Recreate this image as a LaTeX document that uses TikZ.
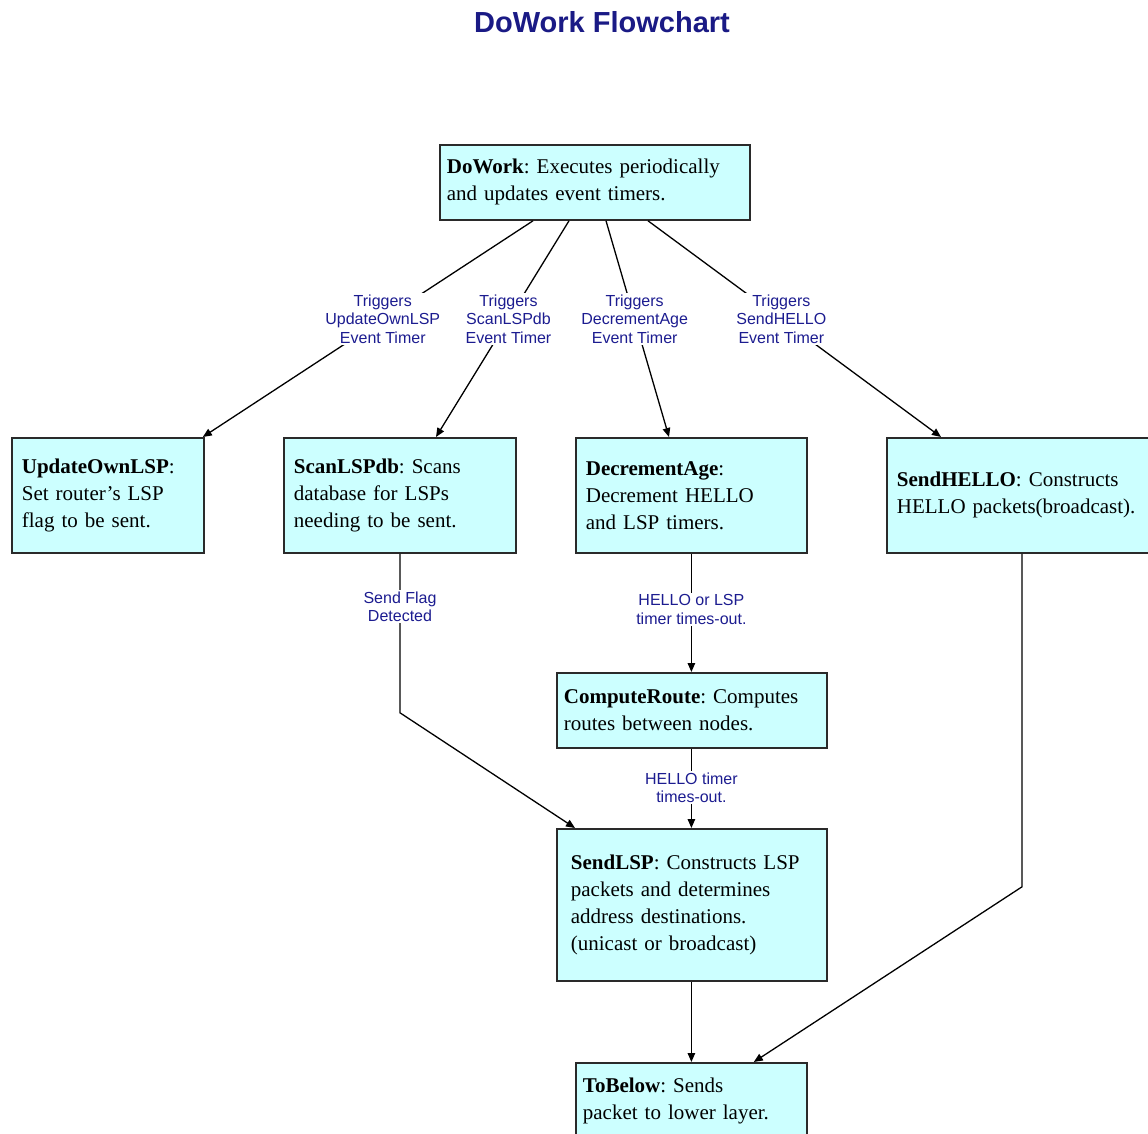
\documentclass[tikz,border=0pt]{standalone}
\usepackage{fontspec}
\setmainfont{Liberation Serif}
\newfontfamily\labelfont{Liberation Sans}
\usetikzlibrary{arrows.meta}
\definecolor{boxfill}{HTML}{CCFFFF}
\definecolor{boxline}{HTML}{2A2A2A}
\definecolor{lblblue}{HTML}{1C1C90}
\definecolor{titleblue}{HTML}{1A1A85}
\tikzset{
  fbox/.style={rectangle, draw=boxline, fill=boxfill, line width=1.8pt, anchor=north west,
    align=left, font=\frenchspacing\fontsize{21}{27}\selectfont, inner ysep=0pt},
  conn/.style={line width=1.3pt, -{Triangle[length=9pt,width=7.5pt]}},
  lbl/.style={fill=white, inner sep=1.5pt, align=center, text=lblblue,
    font=\labelfont\fontsize{16}{18.5}\selectfont},
  ttl/.style={text=titleblue, font=\labelfont\bfseries\fontsize{29}{33}\selectfont}
}
\begin{document}
\begin{tikzpicture}[x=1pt,y=-1pt]
\useasboundingbox (0,0) rectangle (1148,1134);
\fill[white] (0,0) rectangle (1148,1134);
\clip (0,0) rectangle (1148,1134);

\node[ttl] (title) at (602,22) {DoWork Flowchart};

\node[fbox, inner xsep=7pt, text width=296pt, minimum height=75pt] (dw) at (439,144)
  {\textbf{DoWork}: Executes periodically\\and updates event timers.};
\node[fbox, inner xsep=10pt, text width=172pt, minimum height=115pt] (upd) at (11,437)
  {\textbf{UpdateOwnLSP}:\\Set router's LSP\\flag to be sent.};
\node[fbox, inner xsep=10pt, text width=212pt, minimum height=115pt] (scan) at (283,437)
  {\textbf{ScanLSPdb}: Scans\\database for LSPs\\needing to be sent.};
\node[fbox, inner xsep=10pt, text width=211pt, minimum height=115pt] (dec) at (575,437)
  {\textbf{DecrementAge}:\\Decrement HELLO\\and LSP timers.};
\node[fbox, inner xsep=10pt, text width=270pt, minimum height=115pt] (hello) at (886,437)
  {\textbf{SendHELLO}: Constructs\\HELLO packets(broadcast).};
\node[fbox, inner xsep=7pt, text width=256pt, minimum height=75pt] (cr) at (556,672)
  {\textbf{ComputeRoute}: Computes\\routes between nodes.};
\node[fbox, inner xsep=14pt, text width=242pt, minimum height=152pt] (slsp) at (556,828)
  {\textbf{SendLSP}: Constructs LSP\\packets and determines\\address destinations.\\(unicast or broadcast)};
\node[fbox, inner xsep=7pt, text width=217pt, minimum height=76pt] (tb) at (575,1062)
  {\textbf{ToBelow}: Sends\\packet to lower layer.};

\draw[conn] ([xshift=94pt]dw.south west) -- node[lbl, pos=0.455] (l1) {Triggers\\UpdateOwnLSP\\Event Timer} ([xshift=-2pt]upd.north east);
\draw[conn] ([xshift=130pt]dw.south west) -- node[lbl, pos=0.455] (l2) {Triggers\\ScanLSPdb\\Event Timer} ([xshift=153pt]scan.north west);
\draw[conn] ([xshift=167pt]dw.south west) -- node[lbl, pos=0.455] (l3) {Triggers\\DecrementAge\\Event Timer} ([xshift=94pt]dec.north west);
\draw[conn] ([xshift=209pt]dw.south west) -- node[lbl, pos=0.455] (l4) {Triggers\\SendHELLO\\Event Timer} ([xshift=55pt]hello.north west);

\draw[conn] ([xshift=117pt]scan.south west) -- node[lbl, pos=0.333] (l5) {Send Flag\\Detected} ++(0,159) -- ([xshift=19pt]slsp.north west);
\draw[conn] (dec.south) -- node[lbl, pos=0.47] (l6) {HELLO or LSP\\timer times-out.} (dec.south |- cr.north);
\draw[conn] (dec.south |- cr.south) -- node[lbl, pos=0.49] (l7) {HELLO timer\\times-out.} (dec.south |- slsp.north);
\draw[conn] (dec.south |- slsp.south) -- (dec.south |- tb.north);
\draw[conn] ([xshift=136pt]hello.south west) -- ++(0,333) -- ([xshift=-54pt]tb.north east);
\end{tikzpicture}
\end{document}
